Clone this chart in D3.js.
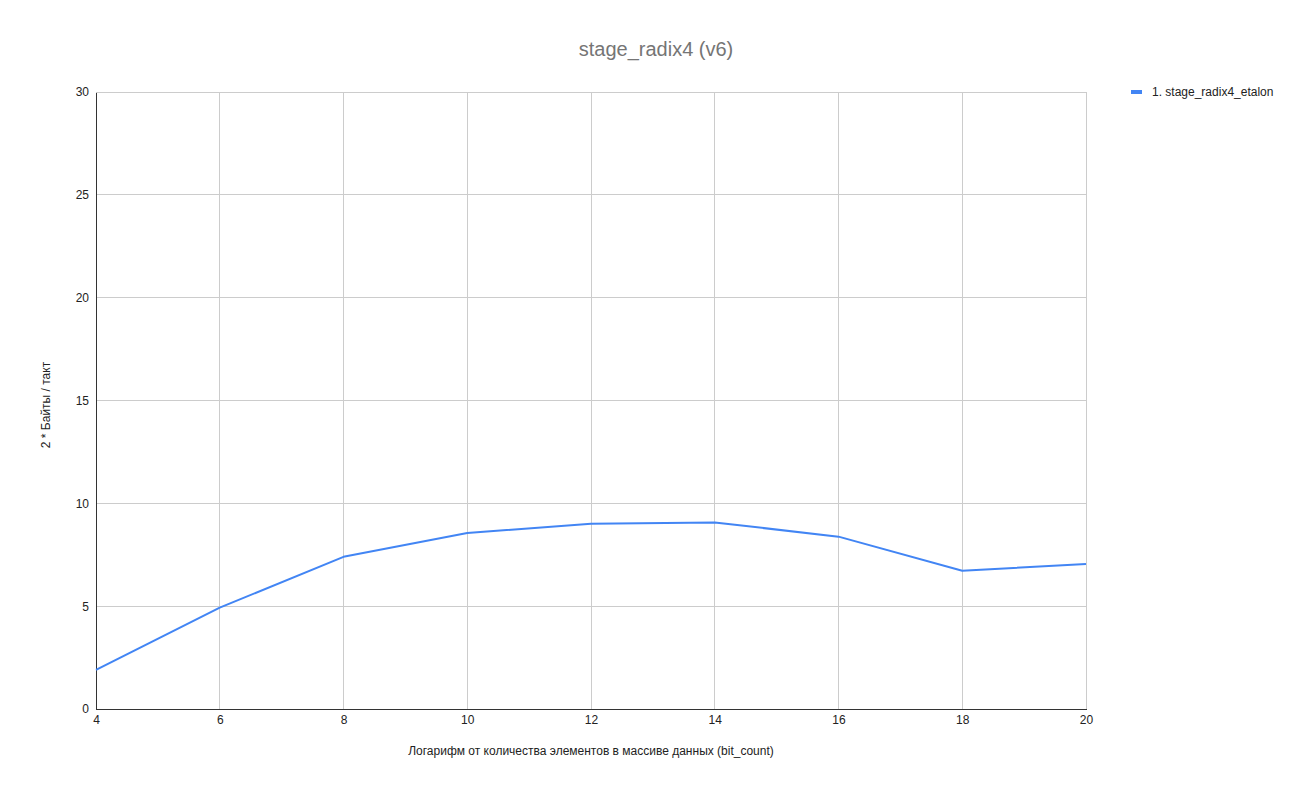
<!DOCTYPE html>
<html>
<head>
<meta charset="utf-8">
<script src="https://cdn.jsdelivr.net/npm/d3@7"></script>
<style>
  body { margin: 0; background: #fff; }
  text { font-family: "Liberation Sans", Arial, sans-serif; }
</style>
</head>
<body>
<svg id="chart" width="1300" height="795"></svg>
<script>
// data
const bitCounts = [4, 6, 8, 10, 12, 14, 16, 18, 20];
const etalon = [1.90, 4.93, 7.40, 8.56, 9.01, 9.07, 8.38, 6.72, 7.05];
const xTicks = [4, 6, 8, 10, 12, 14, 16, 18, 20];
const yTicks = [0, 5, 10, 15, 20, 25, 30];
const seriesName = "1. stage_radix4_etalon";

const margin = { left: 96, right: 214, top: 92, bottom: 86 };
const W = 1300, H = 795;

var svg = d3.select("#chart");
svg.append("rect").attr("width", W).attr("height", H).attr("fill", "#fff");

var x = d3.scaleLinear().domain([4, 20]).range([margin.left, W - margin.right]);
var y = d3.scaleLinear().domain([0, 30]).range([H - margin.bottom, margin.top]);

// grid
var grid = svg.append("g");
grid.selectAll(".gx").data(xTicks.slice(1)).enter().append("line")
  .attr("x1", d => x(d)).attr("x2", d => x(d))
  .attr("y1", y(30)).attr("y2", y(0))
  .attr("stroke", "#cccccc").attr("stroke-width", 1).attr("shape-rendering", "crispEdges");
grid.selectAll(".gy").data(yTicks.slice(1)).enter().append("line")
  .attr("x1", x(4)).attr("x2", x(20))
  .attr("y1", d => y(d)).attr("y2", d => y(d))
  .attr("stroke", "#cccccc").attr("stroke-width", 1).attr("shape-rendering", "crispEdges");

// axes
var xAxis = svg.append("g").attr("transform", `translate(0,${y(0)})`)
  .call(d3.axisBottom(x).tickValues(xTicks).tickSize(0).tickPadding(6));
xAxis.select(".domain").attr("stroke", "#333").attr("shape-rendering", "crispEdges");
xAxis.selectAll("text").attr("font-size", 12).attr("fill", "#222")
  .attr("font-family", "Liberation Sans, Arial, sans-serif");

var yAxis = svg.append("g").attr("transform", `translate(${x(4)},0)`)
  .call(d3.axisLeft(y).tickValues(yTicks).tickSize(0).tickPadding(7));
yAxis.select(".domain").attr("stroke", "#333").attr("shape-rendering", "crispEdges");
yAxis.selectAll("text").attr("font-size", 12).attr("fill", "#222")
  .attr("font-family", "Liberation Sans, Arial, sans-serif");

// line
var line = d3.line().x((d, i) => x(bitCounts[i])).y(d => y(d));
svg.append("path").datum(etalon)
  .attr("d", line)
  .attr("fill", "none")
  .attr("stroke", "#4285f4")
  .attr("stroke-width", 2)
  .attr("stroke-linejoin", "round");

// title
svg.append("text").attr("x", 656).attr("y", 56)
  .attr("text-anchor", "middle").attr("font-size", 20).attr("fill", "#757575")
  .text("stage_radix4 (v6)");

// axis titles
svg.append("text").attr("x", 591).attr("y", 755)
  .attr("text-anchor", "middle").attr("font-size", 12).attr("fill", "#222")
  .text("Логарифм от количества элементов в массиве данных (bit_count)");
svg.append("text")
  .attr("transform", "translate(50,405) rotate(-90)")
  .attr("text-anchor", "middle").attr("font-size", 12).attr("fill", "#222")
  .text("2 * Байты / такт");

// legend
var legend = svg.append("g").attr("transform", "translate(1131,92)");
legend.append("line").attr("x1", 0).attr("x2", 11).attr("y1", 0).attr("y2", 0)
  .attr("stroke", "#4285f4").attr("stroke-width", 4);
legend.append("text").attr("x", 21).attr("y", 4).attr("font-size", 12).attr("fill", "#222")
  .text(seriesName);
</script>
</body>
</html>
